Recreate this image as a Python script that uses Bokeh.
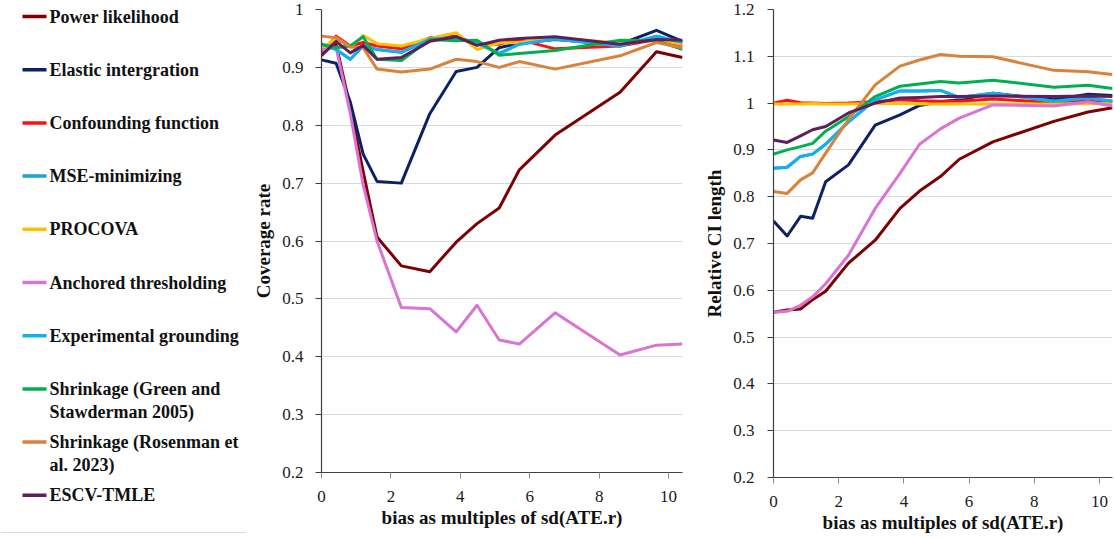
from bokeh.plotting import figure
from bokeh.layouts import row
from bokeh.models import Range1d, FixedTicker, ColumnDataSource
from bokeh.core.properties import value
from bokeh.embed import file_html
from bokeh.resources import INLINE

# ---------------- data ----------------
bias = [0, 0.42, 0.83, 1.2, 1.6, 2.3, 3.12, 3.88, 4.48, 5.12, 5.7, 6.73, 8.6, 9.65, 10.4]

series_names = [
    "Power likelihood",
    "Elastic intergration",
    "Confounding function",
    "MSE-minimizing",
    "PROCOVA",
    "Anchored thresholding",
    "Experimental grounding",
    "Shrinkage (Green and\nStawderman 2005)",
    "Shrinkage (Rosenman et\nal. 2023)",
    "ESCV-TMLE",
]
series_colors = ["#7f0000", "#0b2366", "#ff1010", "#1ea2dc", "#ffc000",
                 "#da74d2", "#12b0f0", "#00b050", "#d8823c", "#5e1f5c"]

# Coverage rate
cov_power = [0.93, 0.94, 0.83, 0.72, 0.607, 0.557, 0.547, 0.598, 0.63, 0.657, 0.723, 0.783, 0.857, 0.927, 0.917]
cov_elastic = [0.913, 0.907, 0.84, 0.75, 0.703, 0.70, 0.82, 0.893, 0.90, 0.934, 0.942, 0.948, 0.94, 0.964, 0.945]
cov_confound = [0.925, 0.954, 0.937, 0.943, 0.937, 0.932, 0.951, 0.954, 0.94, 0.94, 0.948, 0.932, 0.937, 0.948, 0.937]
cov_mse = [0.94, 0.931, 0.914, 0.937, 0.931, 0.926, 0.949, 0.951, 0.942, 0.924, 0.94, 0.949, 0.937, 0.954, 0.943]
cov_procova = [0.931, 0.951, 0.935, 0.955, 0.941, 0.937, 0.95, 0.96, 0.931, 0.942, 0.943, 0.951, 0.942, 0.948, 0.94]
cov_anchored = [0.93, 0.935, 0.82, 0.697, 0.6, 0.485, 0.483, 0.443, 0.489, 0.429, 0.422, 0.476, 0.403, 0.42, 0.422]
cov_experimental = [0.94, 0.931, 0.914, 0.937, 0.931, 0.926, 0.949, 0.951, 0.942, 0.924, 0.94, 0.949, 0.937, 0.954, 0.943]
cov_green = [0.94, 0.934, 0.937, 0.953, 0.914, 0.912, 0.948, 0.946, 0.947, 0.921, 0.924, 0.929, 0.947, 0.946, 0.931]
cov_rosenman = [0.954, 0.951, 0.935, 0.934, 0.897, 0.892, 0.897, 0.914, 0.91, 0.9, 0.91, 0.897, 0.92, 0.943, 0.934]
cov_escv = [0.92, 0.945, 0.925, 0.938, 0.914, 0.917, 0.945, 0.953, 0.938, 0.947, 0.95, 0.953, 0.94, 0.948, 0.947]

# Relative CI length
ci_power = [0.553, 0.558, 0.56, 0.58, 0.598, 0.658, 0.707, 0.775, 0.812, 0.843, 0.88, 0.917, 0.961, 0.981, 0.99]
ci_elastic = [0.748, 0.716, 0.758, 0.754, 0.832, 0.868, 0.953, 0.975, 0.995, 1.003, 1.007, 1.021, 1.007, 1.019, 1.016]
ci_confound = [1.0, 1.006, 1.001, 1.0, 0.999, 1.0, 1.003, 1.007, 1.005, 1.004, 1.004, 1.009, 1.001, 1.005, 1.004]
ci_mse = [0.861, 0.863, 0.886, 0.891, 0.912, 0.96, 1.007, 1.026, 1.026, 1.027, 1.012, 1.021, 1.004, 1.011, 1.004]
ci_procova = [0.998, 0.998, 0.998, 0.999, 0.998, 0.998, 0.999, 0.999, 0.998, 0.998, 0.998, 0.998, 0.998, 0.999, 0.998]
ci_anchored = [0.553, 0.555, 0.568, 0.586, 0.614, 0.675, 0.775, 0.85, 0.912, 0.945, 0.968, 0.996, 0.994, 1.003, 0.994]
ci_experimental = [0.861, 0.863, 0.886, 0.891, 0.912, 0.96, 1.007, 1.026, 1.026, 1.027, 1.012, 1.021, 1.004, 1.011, 1.004]
ci_green = [0.891, 0.9, 0.907, 0.914, 0.94, 0.971, 1.014, 1.036, 1.041, 1.046, 1.043, 1.049, 1.034, 1.038, 1.031]
ci_rosenman = [0.811, 0.807, 0.836, 0.851, 0.893, 0.965, 1.039, 1.079, 1.092, 1.104, 1.1, 1.099, 1.07, 1.067, 1.061]
ci_escv = [0.921, 0.916, 0.93, 0.943, 0.95, 0.979, 1.0, 1.011, 1.012, 1.014, 1.014, 1.015, 1.014, 1.015, 1.014]

coverage = [cov_power, cov_elastic, cov_confound, cov_mse, cov_procova,
            cov_anchored, cov_experimental, cov_green, cov_rosenman, cov_escv]
ci_length = [ci_power, ci_elastic, ci_confound, ci_mse, ci_procova,
             ci_anchored, ci_experimental, ci_green, ci_rosenman, ci_escv]

x_ticks = [0, 2, 4, 6, 8, 10]
cov_ticks = [0.2, 0.3, 0.4, 0.5, 0.6, 0.7, 0.8, 0.9, 1.0]
cov_labels = ["0.2", "0.3", "0.4", "0.5", "0.6", "0.7", "0.8", "0.9", "1"]
ci_ticks = [0.2, 0.3, 0.4, 0.5, 0.6, 0.7, 0.8, 0.9, 1.0, 1.1, 1.2]
ci_labels = ["0.2", "0.3", "0.4", "0.5", "0.6", "0.7", "0.8", "0.9", "1", "1.1", "1.2"]

x_title = "bias as multiples of sd(ATE.r)"

FONT = "Liberation Serif"
AXIS_COLOR = "#404040"
GRID_COLOR = "#d9d9d9"


def style_axes(p, yticks, ylabels, ytitle, y_standoff):
    p.xaxis.ticker = FixedTicker(ticks=x_ticks)
    p.yaxis.ticker = FixedTicker(ticks=yticks)
    p.yaxis.major_label_overrides = {t: l for t, l in zip(yticks, ylabels)}
    p.xaxis.major_label_overrides = {t: str(t) for t in x_ticks}
    for ax in (p.xaxis, p.yaxis):
        ax.axis_line_color = AXIS_COLOR
        ax.axis_line_width = 1.2
        ax.major_tick_line_color = AXIS_COLOR
        ax.major_tick_in = 0
        ax.major_tick_out = 6
        ax.minor_tick_line_color = None
        ax.major_label_text_font = FONT
        ax.major_label_text_font_size = "17px"
        ax.major_label_text_color = "#1a1a1a"
        ax.axis_label_text_font = FONT
        ax.axis_label_text_font_style = "bold"
        ax.axis_label_text_font_size = "19px"
        ax.axis_label_text_color = "#111111"
    p.xaxis.major_tick_line_color = "#8c8c8c"
    p.xaxis.major_label_standoff = 12
    p.xaxis.axis_label_standoff = 2
    p.yaxis.major_label_standoff = y_standoff
    p.yaxis.axis_label_standoff = 5
    p.xaxis.axis_label = x_title
    p.yaxis.axis_label = ytitle
    p.xgrid.grid_line_color = None
    p.ygrid.grid_line_color = GRID_COLOR
    p.ygrid.grid_line_width = 1
    p.ygrid.ticker = FixedTicker(ticks=yticks)
    p.outline_line_color = None
    p.background_fill_color = "white"
    p.border_fill_color = "white"
    p.frame_align = False


# ---------------- legend panel ----------------
leg = figure(width=250, height=538, x_range=Range1d(0, 250), y_range=Range1d(538, 0),
             output_backend="svg", toolbar_location=None, title=None,
             x_axis_location=None, y_axis_location=None,
             min_border_left=0, min_border_right=0, min_border_top=0, min_border_bottom=0)
leg.frame_align = False
leg.grid.grid_line_color = None
leg.outline_line_color = None

first_y = 16
step = 53.2
line_gap = 23
seg_x0, seg_x1, text_x = 22, 46, 49
for i, (name, col) in enumerate(zip(series_names, series_colors)):
    yy = first_y + step * i
    leg.segment(x0=[seg_x0], y0=[yy], x1=[seg_x1], y1=[yy], line_color=col, line_width=3.5)
    parts = name.split("\n")
    leg.text(x=[text_x] * len(parts), y=[yy + line_gap * j for j in range(len(parts))],
             text=parts, text_font=value(FONT), text_font_style="bold",
             text_font_size="18px", text_baseline="middle", text_align="left",
             text_color="#111111")
leg.segment(x0=[0], y0=[532], x1=[246], y1=[532], line_color="#d9d9d9", line_width=1)

# ---------------- coverage plot ----------------
p1 = figure(width=450, height=538, x_range=Range1d(0, 10.4), y_range=Range1d(0.2, 1.0),
            output_backend="svg", toolbar_location=None, title=None,
            min_border_left=65, min_border_right=18, min_border_top=9, min_border_bottom=66)
style_axes(p1, cov_ticks, cov_labels, "Coverage rate", 12)
for vals, col in zip(coverage, series_colors):
    src = ColumnDataSource(dict(x=bias, y=vals))
    p1.line("x", "y", source=src, line_color=col, line_width=3, line_join="round")

# ---------------- CI length plot ----------------
p2 = figure(width=414, height=538, x_range=Range1d(0, 10.4), y_range=Range1d(0.2, 1.2),
            output_backend="svg", toolbar_location=None, title=None,
            min_border_left=73, min_border_right=2, min_border_top=9, min_border_bottom=61)
style_axes(p2, ci_ticks, ci_labels, "Relative CI length", 13)
for vals, col in zip(ci_length, series_colors):
    src = ColumnDataSource(dict(x=bias, y=vals))
    p2.line("x", "y", source=src, line_color=col, line_width=3, line_join="round")

layout = row(leg, p1, p2, spacing=0)
open("out.html", "w").write(file_html(layout, INLINE))
